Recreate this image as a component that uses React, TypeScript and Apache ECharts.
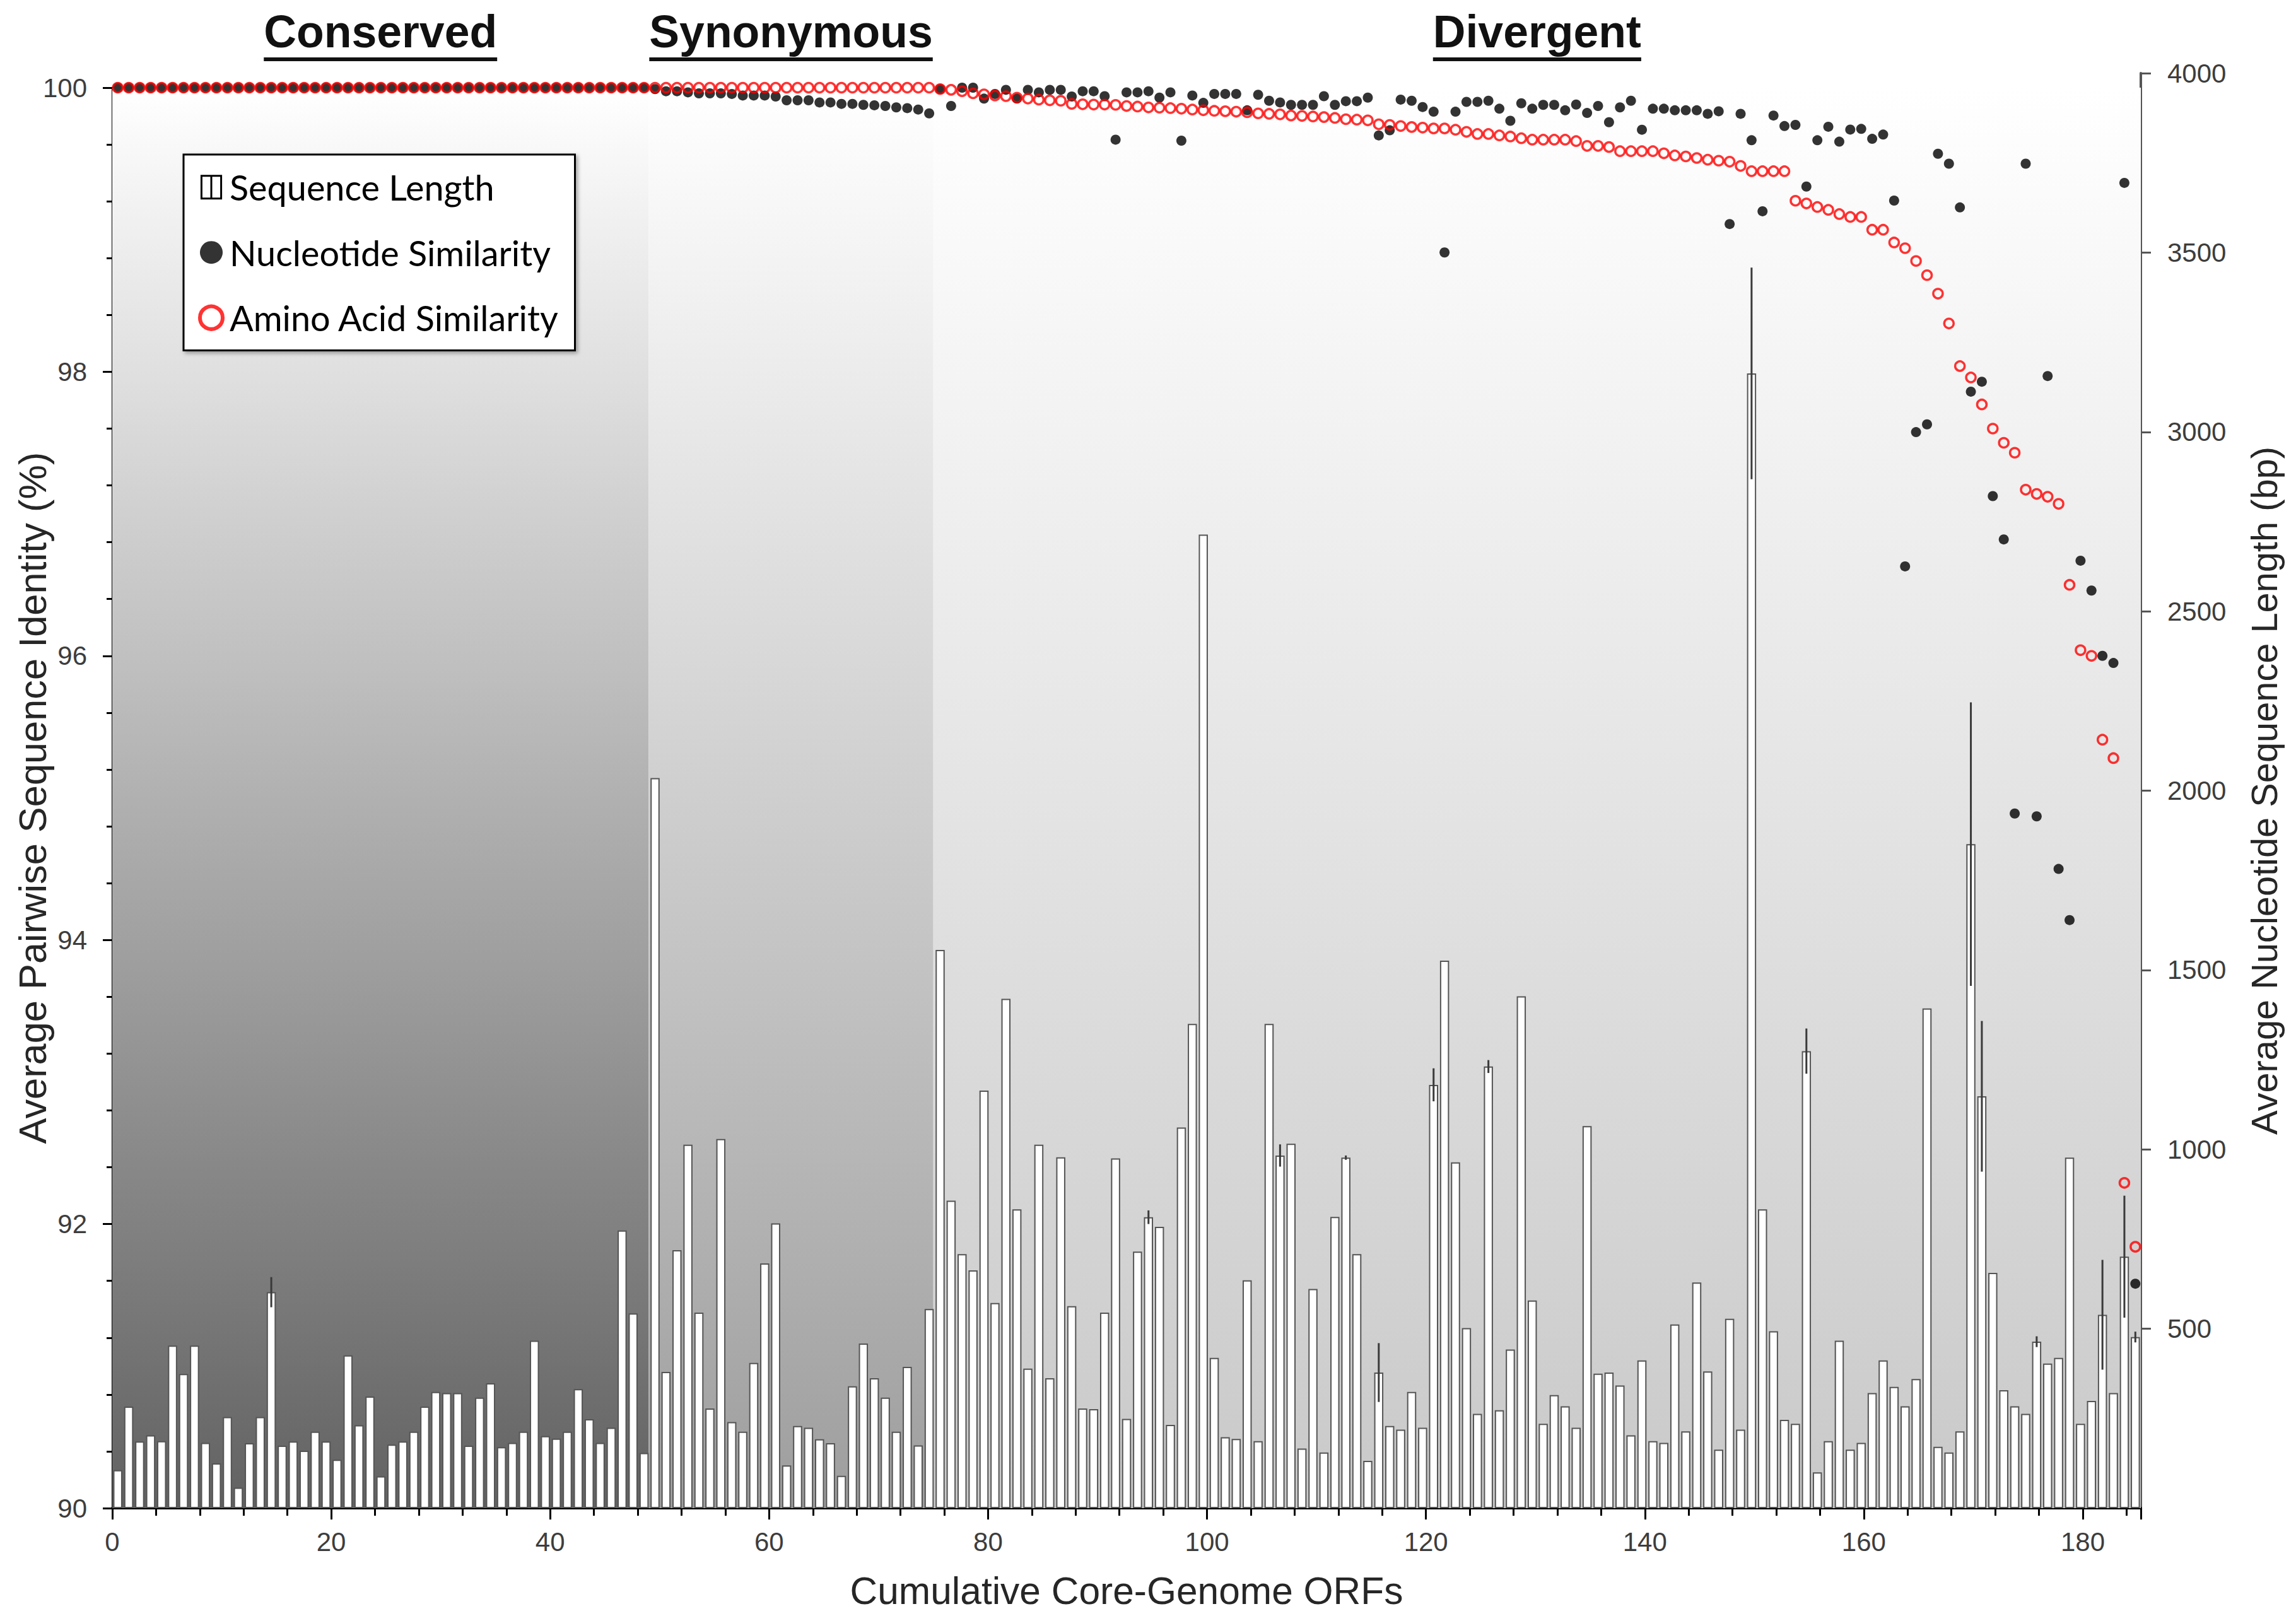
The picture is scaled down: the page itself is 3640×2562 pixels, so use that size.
import React, { useEffect, useRef } from 'react';
import * as echarts from 'echarts';

// ORF index categories (1..185)
const orfIds: string[] = Array.from({ length: 185 }, (_, i) => String(i + 1));

// Average nucleotide sequence length (bp), ORF 1..185
const sequenceLength = [
  106, 283, 186, 203, 187, 453, 374, 453, 182, 125,
  254, 57, 181, 254, 602, 174, 186, 160, 213, 186,
  135, 426, 231, 311, 89, 177, 186, 213, 283, 324,
  321, 321, 174, 308, 348, 170, 182, 213, 467, 201,
  194, 213, 332, 248, 182, 224, 774, 543, 154, 2035,
  380, 719, 1013, 545, 278, 1029, 240, 213, 405, 682,
  794, 119, 229, 224, 192, 181, 90, 340, 459, 362,
  308, 213, 394, 175, 555, 1556, 857, 708, 663, 1164,
  572, 1420, 833, 389, 1013, 362, 978, 563, 278, 276,
  545, 975, 249, 715, 811, 784, 232, 1061, 1350, 2714,
  419, 198, 193, 635, 187, 1350, 983, 1016, 166, 611,
  155, 812, 977, 708, 132, 378, 229, 219, 324, 224,
  1180, 1526, 964, 502, 263, 1231, 273, 442, 1427, 579,
  235, 315, 284, 224, 1065, 375, 378, 342, 203, 412,
  187, 182, 512, 214, 629, 381, 163, 528, 219, 3163,
  833, 493, 246, 235, 1274, 100, 187, 467, 163, 182,
  321, 412, 338, 284, 360, 1393, 171, 155, 214, 1851,
  1148, 656, 329, 284, 263, 464, 403, 419, 977, 235,
  299, 539, 321, 701, 477,
];

// Error bars on sequence length (ORF number, +/- bp)
const errorBarOrf = [15, 95, 107, 113, 116, 121, 126, 150, 155, 170, 171, 176, 182, 184, 185];
const errorBarSize = [42, 19, 31, 6, 82, 46, 18, 295, 63, 395, 210, 15, 153, 170, 15];

// Nucleotide similarity (%), ORF 1..185
const nucleotideSimilarity = [
  100, 100, 100, 100, 100, 100, 100, 100, 100, 100,
  100, 100, 100, 100, 100, 100, 100, 100, 100, 100,
  100, 100, 100, 100, 100, 100, 100, 100, 100, 100,
  100, 100, 100, 100, 100, 100, 100, 100, 100, 100,
  100, 100, 100, 100, 100, 100, 100, 100, 100, 99.99,
  99.975, 99.975, 99.967, 99.96, 99.96, 99.96, 99.956, 99.945, 99.945, 99.945,
  99.938, 99.911, 99.911, 99.911, 99.896, 99.896, 99.886, 99.886, 99.879, 99.876,
  99.871, 99.861, 99.856, 99.846, 99.819, 99.99, 99.871, 100, 100, 99.923,
  99.956, 99.985, 99.923, 99.985, 99.967, 99.985, 99.985, 99.938, 99.975, 99.975,
  99.94, 99.634, 99.967, 99.967, 99.975, 99.93, 99.967, 99.627, 99.945, 99.893,
  99.956, 99.956, 99.956, 99.841, 99.95, 99.908, 99.896, 99.879, 99.879, 99.879,
  99.94, 99.879, 99.905, 99.905, 99.93, 99.664, 99.7, 99.916, 99.908, 99.864,
  99.831, 98.84, 99.831, 99.9, 99.9, 99.908, 99.852, 99.767, 99.89, 99.852,
  99.879, 99.879, 99.841, 99.881, 99.822, 99.871, 99.757, 99.861, 99.908, 99.704,
  99.852, 99.852, 99.841, 99.841, 99.841, 99.816, 99.834, 99.04, 99.816, 99.63,
  99.13, 99.804, 99.73, 99.738, 99.304, 99.63, 99.725, 99.62, 99.705, 99.71,
  99.64, 99.67, 99.205, 96.63, 97.575, 97.63, 99.535, 99.465, 99.157, 97.86,
  97.93, 97.125, 96.82, 94.89, 99.465, 94.87, 97.97, 94.5, 94.14, 96.67,
  96.46, 96.0, 95.95, 99.33, 91.58,
];

// Amino acid similarity (%), ORF 1..185
const aminoAcidSimilarity = [
  100, 100, 100, 100, 100, 100, 100, 100, 100, 100,
  100, 100, 100, 100, 100, 100, 100, 100, 100, 100,
  100, 100, 100, 100, 100, 100, 100, 100, 100, 100,
  100, 100, 100, 100, 100, 100, 100, 100, 100, 100,
  100, 100, 100, 100, 100, 100, 100, 100, 100, 100,
  100, 100, 100, 100, 100, 100, 100, 100, 100, 100,
  100, 100, 100, 100, 100, 100, 100, 100, 100, 100,
  100, 100, 100, 100, 100, 99.99, 99.985, 99.975, 99.96, 99.953,
  99.945, 99.94, 99.93, 99.923, 99.916, 99.911, 99.908, 99.886, 99.883, 99.881,
  99.881, 99.879, 99.871, 99.867, 99.861, 99.859, 99.856, 99.852, 99.846, 99.841,
  99.837, 99.834, 99.831, 99.827, 99.819, 99.816, 99.812, 99.804, 99.801, 99.797,
  99.793, 99.787, 99.778, 99.775, 99.77, 99.742, 99.738, 99.73, 99.723, 99.719,
  99.713, 99.713, 99.704, 99.689, 99.674, 99.674, 99.664, 99.656, 99.644, 99.634,
  99.634, 99.634, 99.634, 99.624, 99.59, 99.59, 99.582, 99.553, 99.553, 99.553,
  99.553, 99.538, 99.523, 99.516, 99.505, 99.493, 99.486, 99.479, 99.449, 99.412,
  99.412, 99.412, 99.412, 99.204, 99.185, 99.16, 99.14, 99.11, 99.09, 99.09,
  99.0, 99.0, 98.91, 98.87, 98.78, 98.68, 98.55, 98.34, 98.04, 97.96,
  97.77, 97.6, 97.5, 97.43, 97.17, 97.14, 97.12, 97.07, 96.5, 96.04,
  96.0, 95.41, 95.28, 92.29, 91.84,
];

// Shaded regions along the ORF axis
const regionNames = ['Conserved', 'Synonymous', 'Divergent'];
const regionEdges = [0, 49, 75, 185.3];
const regionBottomColors = ['#626262', '#9e9e9e', '#c9c9c9'];

// Axis ranges / tick labels
const xAxisMax = 185.3;
const identityTicks = [90, 92, 94, 96, 98, 100];
const lengthTicks = [0, 500, 1000, 1500, 2000, 2500, 3000, 3500, 4000];

export default function App() {
  const ref = useRef<HTMLDivElement>(null);

  useEffect(() => {
    const el = ref.current;
    if (!el) return;
    const chart = echarts.init(el, null, { renderer: 'svg' });

    const sans = "'Liberation Sans', Arial, Helvetica, sans-serif";
    const legendFamily = "Lato, Carlito, 'Open Sans', sans-serif";
    const ctx = document.createElement('canvas').getContext('2d');
    const measure = (text: string, weight: string, size: number, family: string) => {
      if (!ctx) return text.length * size * 0.55;
      ctx.font = `${weight} ${size}px ${family}`;
      return ctx.measureText(text).width;
    };
    const fit = (text: string, weight: string, family: string, target: number, fallback: number) => {
      const w = measure(text, weight, 100, family);
      return w > 0 ? (100 * target) / w : fallback;
    };

    const xTitle = 'Cumulative Core-Genome ORFs';
    const leftTitle = 'Average Pairwise Sequence Identity (%)';
    const rightTitle = 'Average Nucleotide Sequence Length (bp)';
    const xTitleSize = fit(xTitle, 'normal', sans, 877, 58);
    const leftTitleSize = fit(leftTitle, 'normal', sans, 1097, 58);
    const rightTitleSize = fit(rightTitle, 'normal', sans, 1091, 58);
    const legendSize = fit('Nucleotide Similarity', 'normal', legendFamily, 509, 54);
    const regionSize = fit('Conserved', 'bold', sans, 370, 72);

    const gridLeft = 178;
    const gridRightX = 3394;
    const gridBottomY = 2391;
    const W = 3640;
    const H = 2562;

    const legendItemH = Math.max(36, legendSize);
    const legendGap = 103.3 - legendItemH;
    const legendPadTop = 296.6 - 245 - legendItemH / 2;

    const tickLabelStyle = { fontSize: 42, fontFamily: sans, color: '#3d3d3d' };
    const titleStyle = (size: number) => ({ fontSize: size, fontFamily: sans, color: '#262626' });

    const grad = (bottom: string) =>
      new echarts.graphic.LinearGradient(0, 0, 0, 1, [
        { offset: 0, color: '#ffffff' },
        { offset: 1, color: bottom },
      ]);

    const regionAreas = regionNames.map((_, i) => [
      { xAxis: regionEdges[i], yAxis: identityTicks[0], itemStyle: { color: grad(regionBottomColors[i]), opacity: 1, borderWidth: 0 } },
      { xAxis: regionEdges[i + 1], yAxis: identityTicks[identityTicks.length - 1] },
    ]);

    const errData = errorBarOrf.map((orf, i) => [orf - 1, sequenceLength[orf - 1], errorBarSize[i]]);

    const option: any = {
      animation: false,
      backgroundColor: '#ffffff',
      textStyle: { fontFamily: sans },
      grid: [
        { left: gridLeft, right: W - gridRightX, top: 139, bottom: H - gridBottomY, containLabel: false, outerBoundsMode: 'none' },
        { left: gridLeft, right: W - gridRightX, top: 116, bottom: H - gridBottomY, containLabel: false, outerBoundsMode: 'none' },
      ],
      xAxis: [
        {
          gridIndex: 0,
          type: 'value',
          position: 'bottom',
          min: 0,
          max: xAxisMax,
          interval: 4,
          axisLine: { show: true, onZero: false, lineStyle: { color: '#000', width: 4 } },
          axisTick: { show: true, length: 12, lineStyle: { color: '#000', width: 3 } },
          axisLabel: {
            ...tickLabelStyle,
            margin: 32,
            formatter: (v: number) => (Math.abs(v % 20) < 1e-6 ? String(Math.round(v)) : ''),
          },
          splitLine: { show: false },
          name: xTitle,
          nameLocation: 'middle',
          nameMoveOverlap: false,
          nameGap: 131 - xTitleSize / 2,
          nameTextStyle: titleStyle(xTitleSize),
        },
        { gridIndex: 0, type: 'category', data: orfIds, show: false, boundaryGap: true },
        { gridIndex: 1, type: 'category', data: orfIds, show: false, boundaryGap: true, position: 'bottom' },
        {
          gridIndex: 1,
          type: 'value',
          position: 'bottom',
          min: 0,
          max: xAxisMax,
          interval: 20,
          axisLine: { show: false, onZero: false },
          axisTick: { show: true, length: 18, lineStyle: { color: '#000', width: 3 } },
          axisLabel: { show: false },
          splitLine: { show: false },
        },
      ],
      yAxis: [
        {
          gridIndex: 0,
          type: 'value',
          position: 'left',
          min: identityTicks[0],
          max: identityTicks[identityTicks.length - 1],
          interval: 2,
          axisLine: { show: true, onZero: false, lineStyle: { color: '#000', width: 3 } },
          axisTick: { show: true, length: 15, lineStyle: { color: '#000', width: 3 } },
          minorTick: { show: true, splitNumber: 5, length: 9, lineStyle: { color: '#000', width: 3 } },
          splitLine: { show: false },
          minorSplitLine: { show: false },
          axisLabel: { ...tickLabelStyle, margin: 40, formatter: (v: number) => String(v) },
          name: leftTitle,
          nameLocation: 'middle',
          nameRotate: 90,
          nameMoveOverlap: false,
          nameGap: 127 - leftTitleSize / 2,
          nameTextStyle: titleStyle(leftTitleSize),
        },
        {
          gridIndex: 1,
          type: 'value',
          position: 'right',
          min: lengthTicks[0],
          max: lengthTicks[lengthTicks.length - 1],
          interval: 500,
          axisLine: { show: true, onZero: false, lineStyle: { color: '#555', width: 4 } },
          axisTick: { show: true, length: 16, lineStyle: { color: '#555', width: 3 } },
          splitLine: { show: false },
          axisLabel: { ...tickLabelStyle, margin: 42, showMinLabel: false, formatter: (v: number) => String(v) },
          name: rightTitle,
          nameLocation: 'middle',
          nameRotate: 90,
          nameMoveOverlap: false,
          nameGap: 196 - rightTitleSize / 2,
          nameTextStyle: titleStyle(rightTitleSize),
        },
      ],
      legend: {
        show: true,
        orient: 'vertical',
        left: 291,
        top: 245,
        selectedMode: false,
        itemWidth: 48,
        itemHeight: 36,
        itemGap: legendGap,
        padding: [legendPadTop, 25, legendPadTop, 23],
        backgroundColor: '#ffffff',
        borderColor: '#000000',
        borderWidth: 3,
        shadowColor: 'rgba(0,0,0,0.35)',
        shadowBlur: 6,
        shadowOffsetX: 3,
        shadowOffsetY: 3,
        textStyle: { fontFamily: legendFamily, fontSize: legendSize, color: '#000' },
        data: [
          {
            name: 'Sequence Length',
            icon: 'path://M0,0H26V30H0ZM13,0V30',
            itemStyle: { color: '#ffffff', borderColor: '#000000', borderWidth: 3 },
          },
          { name: 'Nucleotide Similarity', icon: 'circle', itemStyle: { color: '#000000' } },
          {
            name: 'Amino Acid Similarity',
            icon: 'circle',
            itemStyle: { color: '#ffffff', borderColor: '#ff0000', borderWidth: 6 },
          },
        ],
      },
      series: [
        {
          type: 'scatter',
          name: 'regions',
          xAxisIndex: 0,
          yAxisIndex: 0,
          data: [[0, identityTicks[0]]],
          symbolSize: 0,
          silent: true,
          z: 0,
          markArea: { silent: true, data: regionAreas },
        },
        {
          type: 'bar',
          name: 'Sequence Length',
          xAxisIndex: 2,
          yAxisIndex: 1,
          data: sequenceLength,
          barWidth: 14.5,
          itemStyle: { color: '#ffffff', borderColor: '#555555', borderWidth: 2 },
          z: 2,
        },
        {
          type: 'custom',
          name: 'Sequence Length Error',
          xAxisIndex: 2,
          yAxisIndex: 1,
          data: errData,
          encode: { x: 0, y: 1 },
          z: 3,
          renderItem: (_params: any, api: any) => {
            const idx = api.value(0);
            const mean = api.value(1);
            const e = api.value(2);
            const top = api.coord([idx, mean + e]);
            const bot = api.coord([idx, mean - e]);
            return {
              type: 'line',
              shape: { x1: top[0], y1: top[1], x2: bot[0], y2: bot[1] },
              style: { stroke: '#3a3a3a', lineWidth: 3 },
            };
          },
        },
        {
          type: 'scatter',
          name: 'Nucleotide Similarity',
          xAxisIndex: 1,
          yAxisIndex: 0,
          data: nucleotideSimilarity,
          symbol: 'circle',
          symbolSize: 16,
          clip: false,
          itemStyle: { color: '#000000' },
          z: 4,
        },
        {
          type: 'scatter',
          name: 'Amino Acid Similarity',
          xAxisIndex: 1,
          yAxisIndex: 0,
          data: aminoAcidSimilarity,
          symbol: 'circle',
          symbolSize: 15,
          clip: false,
          itemStyle: { color: 'rgba(255,255,255,0)', borderColor: '#ff0000', borderWidth: 3.5 },
          z: 5,
        },
      ],
    };

    chart.setOption(option);

    // Section titles centred over each shaded region, underlined
    const graphics: any[] = [];
    regionNames.forEach((name, i) => {
      const x0 = chart.convertToPixel({ xAxisIndex: 0 }, regionEdges[i]) as number;
      const x1 = chart.convertToPixel({ xAxisIndex: 0 }, regionEdges[i + 1]) as number;
      const cx = (x0 + x1) / 2;
      const w = measure(name, 'bold', regionSize, sans);
      graphics.push({
        type: 'text',
        x: cx,
        y: 50,
        style: {
          text: name,
          fontSize: regionSize,
          fontWeight: 'bold',
          fontFamily: sans,
          fill: '#111111',
          textAlign: 'center',
          textVerticalAlign: 'middle',
        },
      });
      graphics.push({
        type: 'rect',
        shape: { x: cx - w / 2, y: 91, width: w, height: 6 },
        style: { fill: '#111111' },
      });
    });
    chart.setOption({ graphic: graphics });

    return () => chart.dispose();
  }, []);

  return <div ref={ref} style={{ position: 'fixed', left: 0, top: 0, width: 3640, height: 2562 }} />;
}
